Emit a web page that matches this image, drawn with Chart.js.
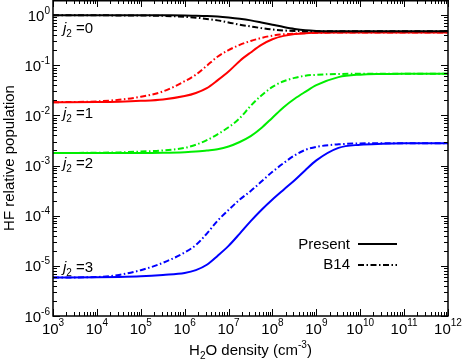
<!DOCTYPE html>
<html>
<head>
<meta charset="utf-8">
<script src="https://cdn.jsdelivr.net/npm/chart.js@4"></script>
<style>
  html, body { margin: 0; padding: 0; background: #fff; }
  #wrap { width: 464px; height: 360px; }
</style>
</head>
<body>
<div id="wrap"><canvas id="myChart" width="464" height="360"></canvas></div>
<script>
// H2O density (cm-3)
const density = [1e3, 1e4, 3.2e4, 1e5, 3.2e5, 1e6, 1.8e6, 3.2e6, 5.6e6, 1e7, 1.8e7, 3.2e7, 5.6e7,
  1e8, 1.8e8, 3.2e8, 5.6e8, 1e9, 3.2e9, 1e10, 3.2e10, 1e11, 1e12];

// HF relative population, present work (solid) and B14 (dash-dot)
const j0Present = [0.99, 0.99, 0.99, 0.99, 0.988, 0.985, 0.975, 0.96, 0.935, 0.895, 0.845, 0.785, 0.715,
  0.645, 0.58, 0.53, 0.498, 0.484, 0.478, 0.476, 0.476, 0.476, 0.476];
const j0B14 = [0.99, 0.99, 0.985, 0.98, 0.965, 0.925, 0.89, 0.84, 0.785, 0.715, 0.645, 0.595, 0.55,
  0.515, 0.493, 0.482, 0.478, 0.477, 0.476, 0.476, 0.476, 0.476, 0.476];
const j1Present = [0.0183, 0.0185, 0.0188, 0.0195, 0.0208, 0.0243, 0.028, 0.035, 0.050, 0.075, 0.122, 0.18, 0.255,
  0.33, 0.385, 0.418, 0.436, 0.443, 0.449, 0.45, 0.45, 0.45, 0.45];
const j1B14 = [0.0183, 0.019, 0.0205, 0.0235, 0.030, 0.048, 0.065, 0.098, 0.148, 0.20, 0.255, 0.305, 0.35,
  0.39, 0.415, 0.428, 0.437, 0.443, 0.449, 0.45, 0.45, 0.45, 0.45];
const j2Present = [1.78e-3, 1.78e-3, 1.78e-3, 1.78e-3, 1.8e-3, 1.85e-3, 1.9e-3, 2.0e-3, 2.12e-3, 2.4e-3, 2.95e-3, 3.85e-3, 5.6e-3,
  9.0e-3, 0.0146, 0.0215, 0.0295, 0.04, 0.058, 0.065, 0.067, 0.068, 0.068];
const j2B14 = [1.78e-3, 1.8e-3, 1.83e-3, 1.9e-3, 2.0e-3, 2.25e-3, 2.6e-3, 3.2e-3, 4.2e-3, 5.8e-3, 8.8e-3, 0.0155, 0.025,
  0.037, 0.048, 0.056, 0.062, 0.0645, 0.067, 0.0675, 0.068, 0.068, 0.068];
const j3Present = [5.85e-6, 5.9e-6, 6.0e-6, 6.2e-6, 6.6e-6, 7.2e-6, 8.2e-6, 1.05e-5, 1.58e-5, 2.5e-5, 4.4e-5, 7.8e-5, 1.3e-4,
  2.1e-4, 3.3e-4, 5.1e-4, 8.1e-4, 1.27e-3, 2.25e-3, 2.6e-3, 2.72e-3, 2.77e-3, 2.78e-3];
const j3B14 = [5.85e-6, 6.0e-6, 6.6e-6, 8.2e-6, 1.15e-5, 1.85e-5, 2.6e-5, 4.4e-5, 7.9e-5, 1.3e-4, 2.1e-4, 3.1e-4, 4.8e-4,
  7.5e-4, 1.12e-3, 1.6e-3, 2.05e-3, 2.36e-3, 2.65e-3, 2.76e-3, 2.78e-3, 2.78e-3, 2.78e-3];

// tick labels (10^n)
const xTickExp = ['3', '4', '5', '6', '7', '8', '9', '10', '11', '12'];
const yTickExp = ['0', '-1', '-2', '-3', '-4', '-5', '-6'];

// j2 state labels, anchored at these populations near the left axis
const stateLabels = ['0', '1', '2', '3'];
const stateLabelY = [1.0, 0.02, 2.0e-3, 1.72e-5];

const FONT = '"Liberation Sans", Arial, Helvetica, sans-serif';
const dashDot = [6, 2.5, 1.5, 2.5];

function pts(ys) {
  return ys.map(function (y, i) { return { x: density[i], y: y }; });
}

function line(label, ys, color, dashed) {
  return {
    label: label,
    data: pts(ys),
    borderColor: color,
    borderWidth: 2,
    borderDash: dashed ? dashDot : [],
    pointRadius: 0,
    fill: false,
    cubicInterpolationMode: 'monotone'
  };
}

// draws a row of text pieces: [text, fontSize, italic, dy]
function drawRuns(ctx, runs, x, y, align) {
  let total = 0;
  const widths = runs.map(function (r) {
    ctx.font = (r[2] ? 'italic ' : '') + r[1] + 'px ' + FONT;
    const w = ctx.measureText(r[0]).width;
    total += w;
    return w;
  });
  let cx = x;
  if (align === 'right') cx = x - total;
  if (align === 'center') cx = x - total / 2;
  ctx.textAlign = 'left';
  ctx.textBaseline = 'alphabetic';
  runs.forEach(function (r, i) {
    ctx.font = (r[2] ? 'italic ' : '') + r[1] + 'px ' + FONT;
    ctx.fillText(r[0], cx, y + (r[3] || 0));
    cx += widths[i];
  });
}

const framePlugin = {
  id: 'frame',
  afterDraw(chart) {
    const ctx = chart.ctx;
    const xs = chart.scales.x;
    const ys = chart.scales.y;
    const a = chart.chartArea;
    ctx.save();
    ctx.fillStyle = '#000';
    ctx.strokeStyle = '#000';

    // frame
    ctx.lineWidth = 1.5;
    ctx.strokeRect(a.left, a.top + 0.75, a.right - a.left, a.bottom - a.top - 0.75);

    // ticks, pointing inwards on all four sides
    ctx.lineWidth = 1;
    ctx.beginPath();
    for (let d = 3; d <= 12; d++) {
      for (let m = 1; m <= 9; m++) {
        if (d === 12 && m > 1) break;
        const px = Math.round(xs.getPixelForValue(m * Math.pow(10, d))) + 0.5;
        const len = m === 1 ? 7 : 4;
        ctx.moveTo(px, a.bottom); ctx.lineTo(px, a.bottom - len);
        ctx.moveTo(px, a.top); ctx.lineTo(px, a.top + len);
      }
    }
    for (let d = -6; d <= 0; d++) {
      for (let m = 1; m <= 9; m++) {
        if (d === 0 && m > 1) break;
        const py = Math.round(ys.getPixelForValue(m * Math.pow(10, d))) + 0.5;
        const len = m === 1 ? 7 : 4;
        ctx.moveTo(a.left, py); ctx.lineTo(a.left + len, py);
        ctx.moveTo(a.right, py); ctx.lineTo(a.right - len, py);
      }
    }
    ctx.stroke();

    // tick labels
    xTickExp.forEach(function (e) {
      const px = xs.getPixelForValue(Math.pow(10, Number(e)));
      drawRuns(ctx, [['10', 15], [e, 10, false, -8]], px, 334, 'center');
    });
    yTickExp.forEach(function (e) {
      const py = ys.getPixelForValue(Math.pow(10, Number(e)));
      drawRuns(ctx, [['10', 15], [e, 10, false, -7]], 50, py + 5.5, 'right');
    });

    // axis titles
    drawRuns(ctx, [['H', 15], ['2', 10, false, 4], ['O density (cm', 15], ['-3', 10, false, -7], [')', 15]],
      (a.left + a.right) / 2, 355, 'center');
    ctx.save();
    ctx.translate(13.5, (a.top + a.bottom) / 2);
    ctx.rotate(-Math.PI / 2);
    drawRuns(ctx, [['HF relative population', 15]], 0, 0, 'center');
    ctx.restore();

    // j2 labels
    stateLabels.forEach(function (s, i) {
      const py = ys.getPixelForValue(stateLabelY[i]);
      drawRuns(ctx, [['j', 15, true], ['2', 10, false, 4], [' =' + s, 15]], 63, py + 18, 'left');
    });

    // legend
    drawRuns(ctx, [['Present', 15]], 350, 248.5, 'right');
    drawRuns(ctx, [['B14', 15]], 350, 268.5, 'right');
    ctx.lineWidth = 2;
    ctx.beginPath(); ctx.moveTo(358, 244); ctx.lineTo(397, 244); ctx.stroke();
    ctx.setLineDash(dashDot);
    ctx.beginPath(); ctx.moveTo(358, 265); ctx.lineTo(397, 265); ctx.stroke();
    ctx.restore();
  }
};

const ctx = document.getElementById('myChart').getContext('2d');
const myChart = new Chart(ctx, {
  type: 'line',
  data: {
    datasets: [
      line('j2=0 Present', j0Present, '#000000', false),
      line('j2=0 B14', j0B14, '#000000', true),
      line('j2=1 Present', j1Present, '#ff0000', false),
      line('j2=1 B14', j1B14, '#ff0000', true),
      line('j2=2 Present', j2Present, '#00ee00', false),
      line('j2=2 B14', j2B14, '#00ee00', true),
      line('j2=3 Present', j3Present, '#0000ff', false),
      line('j2=3 B14', j3B14, '#0000ff', true)
    ]
  },
  options: {
    responsive: false,
    animation: false,
    layout: { padding: { left: 53, right: 16, top: 0, bottom: 44 } },
    plugins: { legend: { display: false }, tooltip: { enabled: false } },
    scales: {
      x: { type: 'logarithmic', min: 1e3, max: 1e12, display: false },
      y: { type: 'logarithmic', min: 1e-6, max: 2, display: false }
    }
  },
  plugins: [framePlugin]
});
</script>
</body>
</html>
